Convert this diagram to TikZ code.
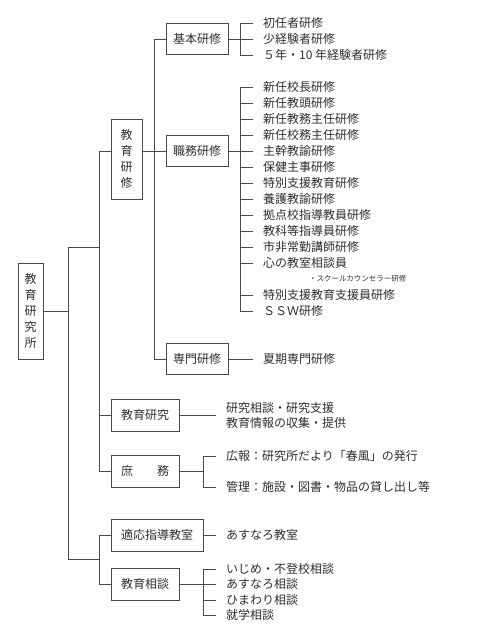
\documentclass[tikz,border=0pt]{standalone}
\usepackage{fontspec}
\setmainfont{Noto Sans CJK JP}
\usepackage{xcolor}
\definecolor{chartink}{HTML}{4A4A4A}
\definecolor{charttext}{HTML}{2E2E2E}

\begin{document}
\begin{tikzpicture}[
  x=1pt,
  y=-1pt,
  every node/.style={font=\fontsize{12}{16}\selectfont, text=charttext},
  unitbox/.style={draw=chartink, line width=0.9pt, inner sep=0pt, align=center},
  widebox/.style={unitbox, minimum width=62pt, minimum height=31pt},
  midbox/.style={unitbox, minimum width=68pt, minimum height=32pt},
  tallbox/.style={unitbox, minimum width=31pt, minimum height=80pt},
  entry/.style={anchor=west, inner xsep=10pt, inner ysep=1pt},
  link/.style={draw=chartink, line width=0.9pt}
]
  \useasboundingbox (0,0) rectangle (497,640);

  % Root and second level
  \node[unitbox, minimum width=25pt, minimum height=96pt] (root) at (30.5,311) {教\\育\\研\\究\\所};
  \node[tallbox] (kyoiku) at (126.5,159) {教\\育\\研\\修};
  \node[midbox] (kenkyu) at (145,415) {教育研究};
  \node[midbox] (shomu) at (145,471) {庶　　務};
  \node[unitbox, minimum width=92pt, minimum height=32pt] (tekio) at (157,535) {適応指導教室};
  \node[midbox] (sodan) at (145,584) {教育相談};

  % Third level (teacher training)
  \node[widebox] (kihon) at (197,39) {基本研修};
  \node[widebox] (shokumu) at (197,151) {職務研修};
  \node[widebox] (senmon) at (197,359) {専門研修};

  % Trunk points
  \coordinate (t0) at (68,311);
  \coordinate (ta) at (99,247);
  \coordinate (tb) at (99,559);
  \coordinate (kj) at (99,151);
  \coordinate (tc) at (154,39);
  \coordinate (kb) at (240,0);
  \coordinate (ku) at (203,0);

  \draw[link] (root.east) -- (t0);
  \draw[link] (ta -| t0) -- (tb -| t0);
  \draw[link] (ta -| t0) -- (ta);
  \draw[link] (tb -| t0) -- (tb);
  \draw[link] (kj) -- (shomu.west -| kj);
  \draw[link] (kj) -- (kyoiku.west |- kj);
  \draw[link] (kyoiku.east |- kj) -- (shokumu.west);
  \draw[link] (kenkyu.west -| kj) -- (kenkyu.west);
  \draw[link] (shomu.west -| kj) -- (shomu.west);
  \draw[link] (tekio.west -| tb) -- (sodan.west -| tb);
  \draw[link] (tekio.west -| tb) -- (tekio.west);
  \draw[link] (sodan.west -| tb) -- (sodan.west);
  \draw[link] (tc) -- (senmon.west -| tc);
  \draw[link] (tc) -- (kihon.west);
  \draw[link] (senmon.west -| tc) -- (senmon.west);

  % Basic training
  \node[entry] (k1) at (253,23) {初任者研修};
  \node[entry] (k2) at (253,39) {少経験者研修};
  \node[entry] (k3) at (253,55) {５年・10 年経験者研修};
  \draw[link] (kihon.east) -- (kihon.east -| kb);
  \draw[link] (k1.west) -- (k1.west -| kb) -- (k3.west -| kb) -- (k3.west);
  \draw[link] (k2.west) -- (k2.west -| kb);

  % Duty training
  \node[entry] (s1) at (253,87) {新任校長研修};
  \node[entry] (s2) at (253,103) {新任教頭研修};
  \node[entry] (s3) at (253,119) {新任教務主任研修};
  \node[entry] (s4) at (253,135) {新任校務主任研修};
  \node[entry] (s5) at (253,151) {主幹教諭研修};
  \node[entry] (s6) at (253,167) {保健主事研修};
  \node[entry] (s7) at (253,183) {特別支援教育研修};
  \node[entry] (s8) at (253,199) {養護教諭研修};
  \node[entry] (s9) at (253,215) {拠点校指導教員研修};
  \node[entry] (s10) at (253,231) {教科等指導員研修};
  \node[entry] (s11) at (253,247) {市非常勤講師研修};
  \node[entry] (s12) at (253,263) {心の教室相談員};
  \node[anchor=west, inner sep=0pt, font=\fontsize{7.5}{9}\selectfont] (s12a) at (309,279) {・スクールカウンセラー研修};
  \node[entry] (s13) at (253,295) {特別支援教育支援員研修};
  \node[entry] (s14) at (253,311) {ＳＳＷ研修};
  \draw[link] (shokumu.east) -- (shokumu.east -| kb);
  \draw[link] (s1.west) -- (s1.west -| kb) -- (s14.west -| kb) -- (s14.west);
  \draw[link] (s2.west) -- (s2.west -| kb);
  \draw[link] (s3.west) -- (s3.west -| kb);
  \draw[link] (s4.west) -- (s4.west -| kb);
  \draw[link] (s5.west) -- (s5.west -| kb);
  \draw[link] (s6.west) -- (s6.west -| kb);
  \draw[link] (s7.west) -- (s7.west -| kb);
  \draw[link] (s8.west) -- (s8.west -| kb);
  \draw[link] (s9.west) -- (s9.west -| kb);
  \draw[link] (s10.west) -- (s10.west -| kb);
  \draw[link] (s11.west) -- (s11.west -| kb);
  \draw[link] (s12.west) -- (s12.west -| kb);
  \draw[link] (s13.west) -- (s13.west -| kb);

  % Special training
  \node[entry] (n1) at (253,359) {夏期専門研修};
  \draw[link] (senmon.east) -- (n1.west);

  % Research
  \node[entry, align=left, font=\fontsize{12}{15}\selectfont] (r1) at (216,415) {研究相談・研究支援\\教育情報の収集・提供};
  \draw[link] (kenkyu.east) -- (r1.west);

  % General affairs
  \node[entry] (h1) at (216,456) {広報：研究所だより「春風」の発行};
  \node[entry] (h2) at (216,487) {管理：施設・図書・物品の貸し出し等};
  \draw[link] (shomu.east) -- (shomu.east -| ku);
  \draw[link] (h1.west) -- (h1.west -| ku) -- (h2.west -| ku) -- (h2.west);

  % Adaptive guidance room
  \node[entry] (a1) at (216,535) {あすなろ教室};
  \draw[link] (tekio.east) -- (a1.west);

  % Counselling
  \node[entry] (d1) at (216,569) {いじめ・不登校相談};
  \node[entry] (d2) at (216,584) {あすなろ相談};
  \node[entry] (d3) at (216,600) {ひまわり相談};
  \node[entry] (d4) at (216,615) {就学相談};
  \draw[link] (sodan.east) -- (sodan.east -| ku);
  \draw[link] (d1.west) -- (d1.west -| ku) -- (d4.west -| ku) -- (d4.west);
  \draw[link] (d2.west) -- (d2.west -| ku);
  \draw[link] (d3.west) -- (d3.west -| ku);
\end{tikzpicture}
\end{document}
